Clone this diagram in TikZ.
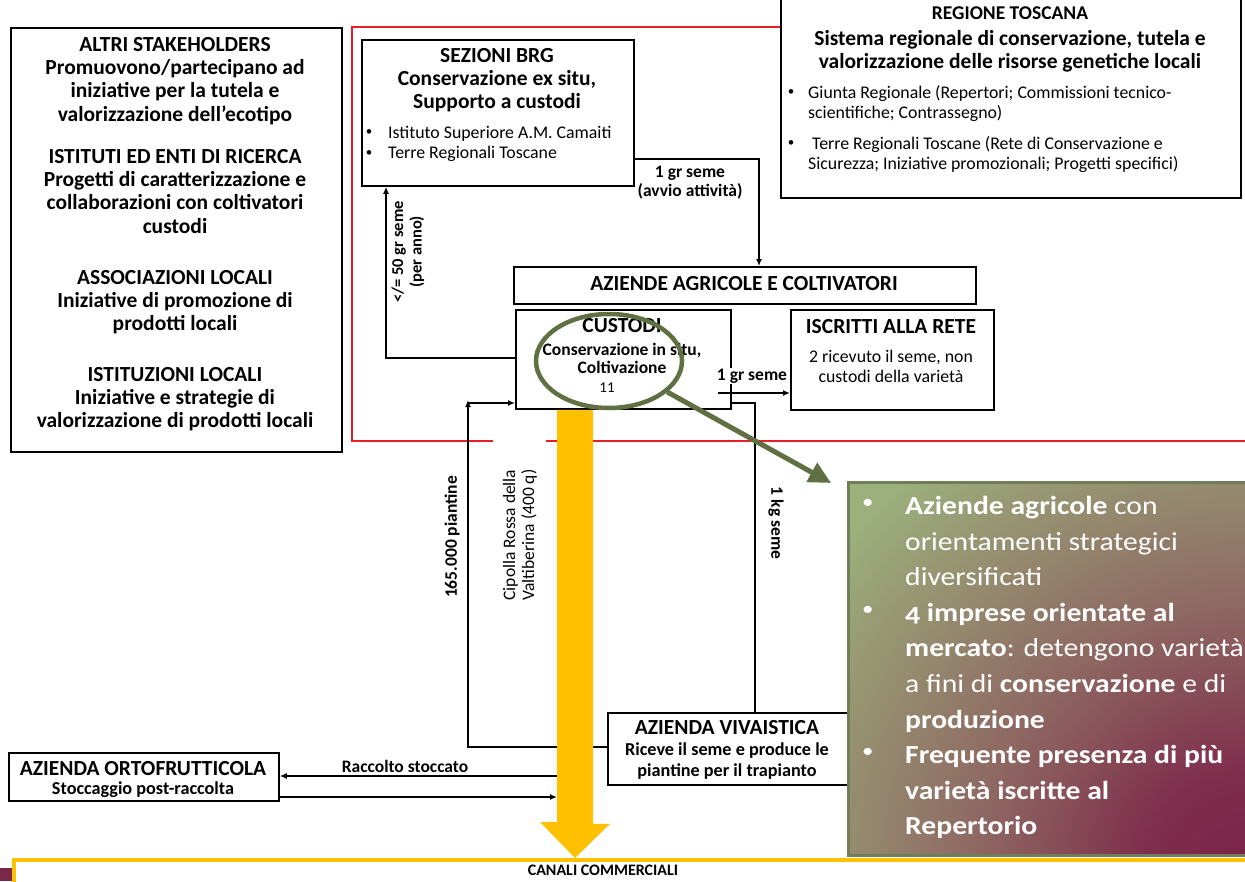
\documentclass[tikz,border=0pt]{standalone}
\usepackage{fontspec}
\setmainfont{Carlito}
\newfontfamily\notefont[FakeStretch=1.14,Numbers=OldStyle]{Carlito}
\usetikzlibrary{arrows.meta,shapes.geometric}
\definecolor{framered}{RGB}{232,30,38}
\definecolor{flowgold}{RGB}{255,192,0}
\definecolor{ringolive}{RGB}{96,112,66}
\definecolor{notesage}{RGB}{156,176,124}
\definecolor{notewine}{RGB}{124,34,72}
\definecolor{notemauve}{RGB}{142,104,98}
\definecolor{noteedge}{RGB}{112,126,88}
\definecolor{slidewine}{RGB}{122,40,72}
\newcommand\setfs[2]{\fontsize{#1}{#2}\selectfont}
% wash of the note panel: wine in the corner, through mauve, into sage
% (TikZ fits the 25bp radius to the shaded path)
\pgfdeclareradialshading{notewash}{\pgfpoint{0bp}{0bp}}{%
  color(0bp)=(notewine); color(5bp)=(notewine!92!notesage); color(13bp)=(notemauve);
  color(25bp)=(notesage); color(50bp)=(notesage)}
\begin{document}
\begin{tikzpicture}[x=1pt,y=-1pt,
  box/.style={draw=black, line width=1.8pt, fill=white, inner sep=0pt, anchor=north west},
  conn/.style={draw=black, line width=1.4pt},
  tip/.style={-{Latex[length=7pt,width=6pt]}},
  txt/.style={inner sep=0pt, align=center, anchor=north},
  head/.style={txt, font=\setfs{21.5}{23.3}\bfseries},
  sub/.style={txt, font=\setfs{18.2}{20.5}\bfseries},
  plain/.style={txt, font=\setfs{17.8}{20.2}},
  lbl/.style={inner sep=1pt, align=center, font=\setfs{17.5}{19}\bfseries},
  bul/.style={inner sep=0pt, anchor=north west, align=left, font=\setfs{17.8}{20.2}},
  dot/.style={inner sep=0pt, anchor=center, font=\setfs{13}{13}},
]
\useasboundingbox (0,0) rectangle (1245,881);

% slide corner marks
\fill[slidewine] (828,0) rectangle (835,6);
\fill[slidewine] (0,868) rectangle (12,881);

% red frame of the regional system
\draw[framered, line width=2pt] (780,27) -- (352,27) -- (352,441) -- (493,441);
\draw[framered, line width=2pt] (546,441) -- (1245,441);

% commercial channels frame
\node[draw=flowgold, line width=4pt, fill=white, inner sep=0pt, anchor=north west,
      minimum width=1300pt, minimum height=100pt] (canali) at (12,858) {};
\node[head, font=\setfs{16}{18}\bfseries] at (603,865) {CANALI COMMERCIALI};

% boxes
\node[box, minimum width=331pt, minimum height=424pt] (stake) at (10,27) {};
\node[box, minimum width=272pt, minimum height=146pt] (brg) at (361,39) {};
\node[box, minimum width=460pt, minimum height=203pt] (regione) at (780,-6) {};
\node[box, minimum width=462pt, minimum height=37pt] (azi) at (513,266) {};
\node[box, minimum width=215pt, minimum height=99pt] (custodi) at (515,309) {};
\node[box, minimum width=203pt, minimum height=100pt] (iscritti) at (790,309) {};
\node[box, minimum width=241pt, minimum height=72pt] (viva) at (607,712) {};
\node[box, minimum width=270pt, minimum height=48pt] (orto) at (8,752) {};

% stakeholder texts
\node[head] at (175,37) {ALTRI STAKEHOLDERS\\Promuovono/partecipano ad\\iniziative per la tutela e\\valorizzazione dell’ecotipo};
\node[head] at (175,149) {ISTITUTI ED ENTI DI RICERCA\\Progetti di caratterizzazione e\\collaborazioni con coltivatori\\custodi};
\node[head] at (175,270) {ASSOCIAZIONI LOCALI\\Iniziative di promozione di\\prodotti locali};
\node[head] at (175,367) {ISTITUZIONI LOCALI\\Iniziative e strategie di\\valorizzazione di prodotti locali};

% BRG sections
\node[head] at (497,48) {SEZIONI BRG\\Conservazione ex situ,\\Supporto a custodi};
\node[dot] at (369,133) {•};
\node[dot] at (369,154) {•};
\node[bul] at (388,126) {Istituto Superiore A.M. Camaiti\\Terre Regionali Toscane};

% Regione Toscana
\node[head, font=\setfs{19.5}{22}\bfseries] at (1010,7) {REGIONE TOSCANA};
\node[head] at (1010,30) {Sistema regionale di conservazione, tutela e\\valorizzazione delle risorse genetiche locali};
\node[dot] at (791,93) {•};
\node[bul] at (808,85) {Giunta Regionale (Repertori; Commissioni tecnico-\\scientifiche; Contrassegno)};
\node[dot] at (791,144) {•};
\node[bul] at (812,136) {Terre Regionali Toscane (Rete di Conservazione e};
\node[bul] at (808,156) {Sicurezza; Iniziative promozionali; Progetti specifici)};

% farms
\node[head] at (744,276) {AZIENDE AGRICOLE E COLTIVATORI};
\node[head] at (622,318) {CUSTODI};
\node[sub, font=\setfs{17.5}{18.5}\bfseries] at (622,343) {Conservazione in situ,\\Coltivazione};
\node[plain, font=\setfs{15}{16}] at (607,383) {11};
\node[head] at (891,319) {ISCRITTI ALLA RETE};
\node[plain] at (891,350) {2 ricevuto il seme, non\\custodi della varietà};

% nursery and storage
\node[head] at (727,720) {AZIENDA VIVAISTICA};
\node[sub] at (727,743) {Riceve il seme e produce le\\piantine per il trapianto};
\node[head] at (143,761) {AZIENDA ORTOFRUTTICOLA};
\node[sub] at (143,782) {Stoccaggio post-raccolta};

% seed and plant flows
\coordinate (avv) at (759,159);
\draw[conn, tip] (brg.east |- avv) -- (avv) -- (azi.north -| avv);
\node[lbl] at (690,183) {1 gr seme\\(avvio attività)};

\coordinate (ret) at (386,358);
\draw[conn, tip] (custodi.west |- ret) -- (ret) -- (brg.south -| ret);
\node[lbl, font=\setfs{16.5}{18.5}\bfseries, rotate=90] at (408,252) {</= 50 gr seme\\(per anno)};

\coordinate (pbend) at (468,747);
\coordinate (pturn) at (468,403);
\draw[conn, tip] (viva.west |- pbend) -- (pbend) -- ([yshift=3pt]pturn);
\draw[conn, tip] (pturn) -- (custodi.west |- pturn);
\node[lbl, rotate=90] at (452,537) {165.000 piantine};

\coordinate (kg) at (755,403);
\draw[conn] (custodi.east |- kg) -- (kg) -- (viva.north -| kg);
\node[lbl, rotate=-90] at (776,523) {1 kg seme};

\coordinate (gr) at (718,393);
\draw[conn, tip] (gr) -- (iscritti.west |- gr);
\node[lbl, fill=white] at (752,376) {1 gr seme};

\node[lbl, font=\setfs{17.5}{19}, rotate=90] at (520,535) {Cipolla Rossa della\\Valtiberina (400 q)};

% harvest to storage and back
\coordinate (up) at (557,776);
\coordinate (dn) at (557,797);
\draw[conn, tip] (up) -- (orto.east |- up);
\draw[conn, tip] (orto.east |- dn) -- (dn);
\node[lbl] at (405,766) {Raccolto stoccato};

% main product flow to the market
\coordinate (ytip) at (575,858);
\fill[flowgold] (custodi.south -| ytip) ++(-18,0) -- ++(36,0) -- ++(0,414) -- ++(17,0)
  -- (ytip) -- ++(-35,-36) -- ++(17,0) -- cycle;

% highlight on the custodians
\node[ellipse, draw=ringolive, line width=4.5pt, minimum width=146pt, minimum height=94pt,
      inner sep=0pt] (ring) at (609,361) {};
\coordinate (noteptr) at (831,483);
\draw[ringolive, line width=5pt, -{Triangle[length=22pt,width=21pt]}] (ring.-28) -- (noteptr);

% note panel
\node[anchor=north west, inner sep=0pt, minimum width=400pt, minimum height=373pt] (note) at (848,482) {};
\begin{scope}
  \clip (note.north west) rectangle (note.south east);
  \fill[notesage] (note.north west) rectangle (note.south east);
  \shade[shading=notewash] (1250,880) circle (530);
\end{scope}
\draw[noteedge, line width=3pt] (note.north west) rectangle (note.south east);
\node[anchor=north west, inner sep=0pt, align=left, text=white, font=\notefont\setfs{20}{35.6}] at (862,499) {•\\[71.2pt]•\\[106.8pt]•};
\node[anchor=north west, inner sep=0pt, align=left, text=white, font=\notefont\setfs{26}{35.6}] (notetext) at (905,496)
  {\textbf{Aziende agricole} con\\orientamenti strategici\\diversificati\\\textbf{4 imprese orientate al}\\\textbf{mercato}: detengono varietà\\a fini di \textbf{conservazione} e di\\\textbf{produzione}\\\textbf{Frequente presenza di più}\\\textbf{varietà iscritte al}\\\textbf{Repertorio}};
\end{tikzpicture}
\end{document}
